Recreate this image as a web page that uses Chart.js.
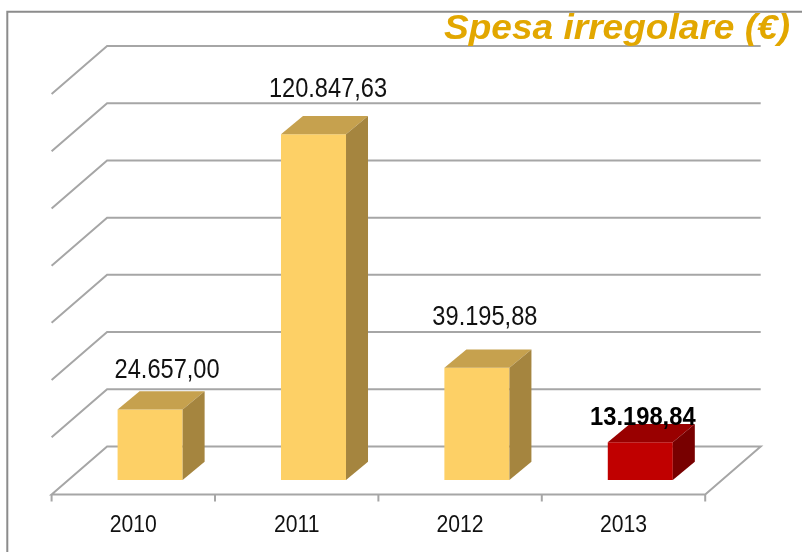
<!DOCTYPE html>
<html><head><meta charset="utf-8">
<script src="https://cdn.jsdelivr.net/npm/chart.js@4/dist/chart.umd.min.js"></script>
<style>html,body{margin:0;padding:0;background:#fff;overflow:hidden}canvas{display:block}</style>
</head><body>
<canvas id="c" width="802" height="552"></canvas>
<script>
// ---- data ----
const categories = ['2010', '2011', '2012', '2013'];
const spesa = [24657.00, 120847.63, 39195.88, 13198.84];
const highlightIndex = 3;
const yMin = 0, yMax = 140000, yStep = 20000;
const titleText = 'Spesa irregolare (€)';

function fmtIt(v) {
  const parts = v.toFixed(2).split('.');
  return parts[0].replace(/\B(?=(\d{3})+(?!\d))/g, '.') + ',' + parts[1];
}

// ---- style / geometry ----
const WALL = {dx: 38.7, dy: -33.5};
const FLOOR = {dx: -16.8, dy: 14.5};
const DEPTH = {dx: 22, dy: -18.3};
const FACE = {
  normal: {front: '#FDD066', top: '#C6A14E', side: '#A5853F'},
  hl: {front: '#C00000', top: '#990000', side: '#780000'}
};
const LABEL_OFF = [[17, -31.7], [14.5, -37.6], [8, -43], [2.5, -17.4]];
const GRID = '#a6a6a6';
const FONT = "'Liberation Sans', Arial, sans-serif";

function drawText(ctx, str, font, x, y, sx, align, color) {
  ctx.save();
  ctx.font = font;
  ctx.fillStyle = color;
  ctx.textAlign = align;
  ctx.textBaseline = 'alphabetic';
  ctx.translate(x, y);
  ctx.scale(sx, 1);
  ctx.fillText(str, 0, 0);
  ctx.restore();
}

const threeD = {
  id: 'threeD',
  beforeDatasetsDraw(chart) {
    const ctx = chart.ctx, a = chart.chartArea, ys = chart.scales.y, xs = chart.scales.x;
    ctx.save();
    // frame
    ctx.strokeStyle = '#8c8c8c'; ctx.lineWidth = 2;
    ctx.beginPath(); ctx.moveTo(7.3, 552); ctx.lineTo(7.3, 11.7); ctx.lineTo(802, 11.7); ctx.stroke();
    // back wall grid + side wall diagonals + floor
    ctx.strokeStyle = GRID; ctx.lineWidth = 2; ctx.lineJoin = 'miter';
    for (let v = yMin; v <= yMax + 1e-6; v += yStep) {
      const y = ys.getPixelForValue(v);
      ctx.beginPath();
      ctx.moveTo(a.left + FLOOR.dx, y + FLOOR.dy);
      ctx.lineTo(a.left + WALL.dx, y + WALL.dy);
      ctx.lineTo(a.right + WALL.dx, y + WALL.dy);
      if (v === yMin) {
        ctx.lineTo(a.right + FLOOR.dx, y + FLOOR.dy);
        ctx.closePath();
      }
      ctx.stroke();
    }
    // category ticks under floor
    const sp = xs.getPixelForValue(1) - xs.getPixelForValue(0);
    const yf = ys.getPixelForValue(yMin) + FLOOR.dy;
    for (let i = 0; i <= categories.length; i++) {
      const x = xs.getPixelForValue(0) - sp / 2 + i * sp + FLOOR.dx;
      ctx.beginPath(); ctx.moveTo(x, yf); ctx.lineTo(x, yf + 7); ctx.stroke();
    }
    ctx.restore();
  },
  afterDatasetsDraw(chart) {
    const ctx = chart.ctx, ys = chart.scales.y, xs = chart.scales.x;
    const meta = chart.getDatasetMeta(0);
    meta.data.forEach((el, i) => {
      const p = el.getProps(['x', 'y', 'base', 'width'], true);
      const x1 = p.x - p.width / 2, x2 = p.x + p.width / 2, yt = p.y, yb = p.base;
      const c = i === highlightIndex ? FACE.hl : FACE.normal;
      ctx.save();
      // top face
      ctx.fillStyle = c.top;
      ctx.beginPath();
      ctx.moveTo(x1, yt); ctx.lineTo(x2, yt);
      ctx.lineTo(x2 + DEPTH.dx, yt + DEPTH.dy); ctx.lineTo(x1 + DEPTH.dx, yt + DEPTH.dy);
      ctx.closePath(); ctx.fill();
      // side face
      ctx.fillStyle = c.side;
      ctx.beginPath();
      ctx.moveTo(x2, yt); ctx.lineTo(x2 + DEPTH.dx, yt + DEPTH.dy);
      ctx.lineTo(x2 + DEPTH.dx, yb + DEPTH.dy); ctx.lineTo(x2, yb);
      ctx.closePath(); ctx.fill();
      ctx.restore();
    });
    // value labels
    meta.data.forEach((el, i) => {
      const p = el.getProps(['x', 'y'], true);
      const txt = fmtIt(spesa[i]);
      if (i === highlightIndex) {
        drawText(ctx, txt, 'bold 25px ' + FONT, p.x + LABEL_OFF[i][0], p.y + LABEL_OFF[i][1], 0.95, 'center', '#000');
      } else {
        drawText(ctx, txt, '27px ' + FONT, p.x + LABEL_OFF[i][0], p.y + LABEL_OFF[i][1], 0.875, 'center', '#111');
      }
    });
    // category labels
    const yl = ys.getPixelForValue(yMin) + 51.7;
    categories.forEach((c, i) => {
      drawText(ctx, c, '23px ' + FONT, xs.getPixelForValue(i) + FLOOR.dx, yl, 0.92, 'center', '#111');
    });
    // title
    ctx.save();
    ctx.font = 'italic bold 35px ' + FONT;
    const w = ctx.measureText(titleText).width;
    ctx.restore();
    drawText(ctx, titleText, 'italic bold 35px ' + FONT, 790, 38.5, 346 / w, 'right', '#E2A700');
  }
};

new Chart(document.getElementById('c'), {
  type: 'bar',
  data: {
    labels: categories,
    datasets: [{
      data: spesa,
      backgroundColor: spesa.map((v, i) => i === highlightIndex ? FACE.hl.front : FACE.normal.front),
      borderWidth: 0,
      barPercentage: 0.398,
      categoryPercentage: 1
    }]
  },
  options: {
    responsive: false,
    animation: false,
    devicePixelRatio: 1,
    layout: {padding: {left: 68.4, right: 80, top: 79.5, bottom: 72}},
    plugins: {legend: {display: false}, tooltip: {enabled: false}, title: {display: false}},
    scales: {
      x: {display: false},
      y: {display: false, min: yMin, max: yMax, ticks: {stepSize: yStep}}
    }
  },
  plugins: [threeD]
});
</script>
</body></html>
